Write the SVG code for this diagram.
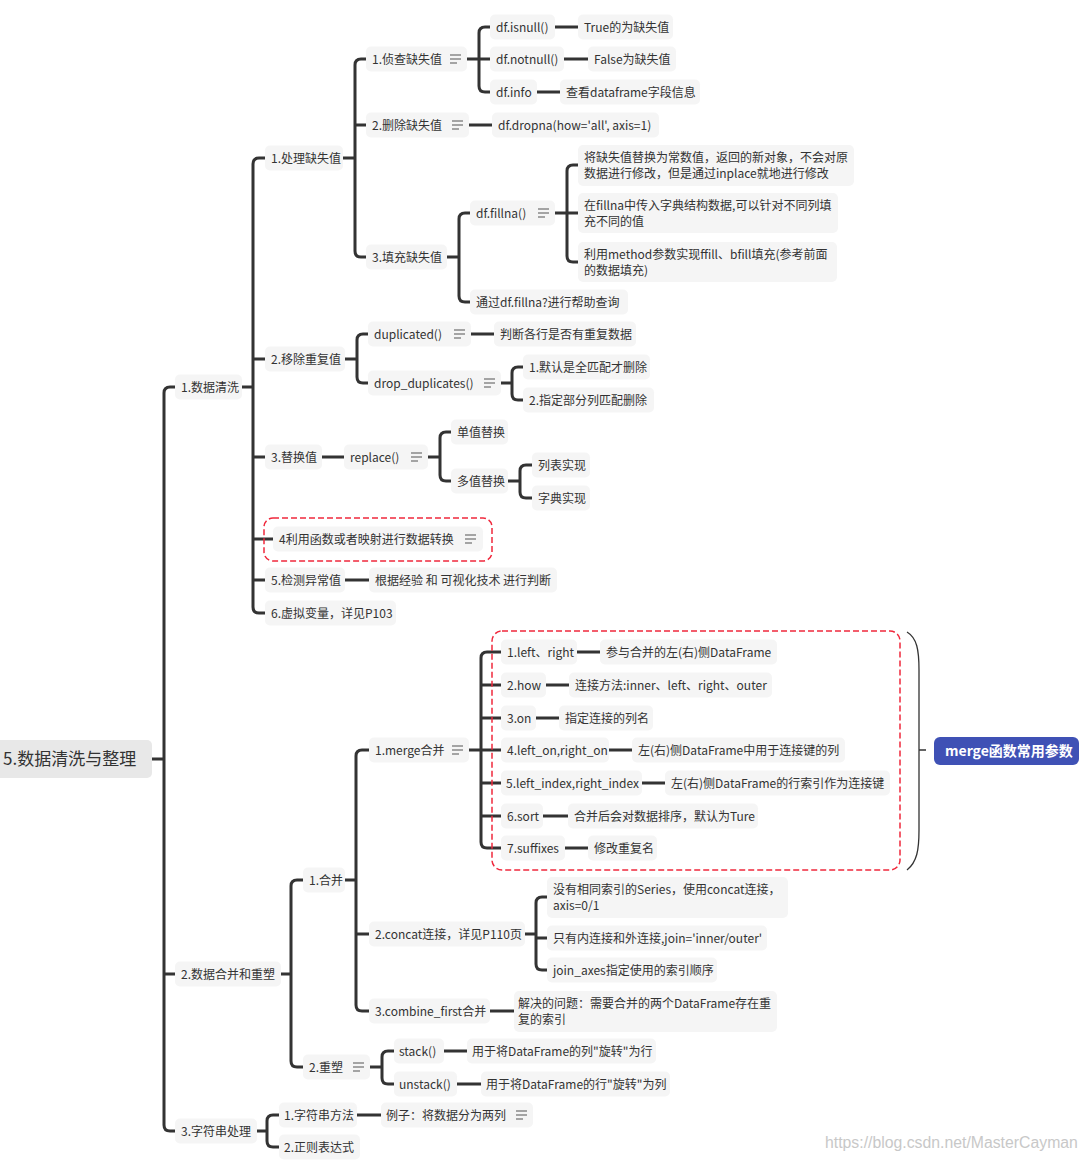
<svg xmlns="http://www.w3.org/2000/svg" width="1085" height="1161" viewBox="0 0 1085 1161">
<style>
text{font-family:"Noto Sans CJK SC","Noto Sans",sans-serif;font-size:12px;fill:#333}
.n rect{fill:#f5f5f5}
.c path{fill:none;stroke:#333;stroke-width:3}
.ic{fill:none;stroke:#555;stroke-width:1.2}
.dash{fill:none;stroke:#f0283c;stroke-width:1.5;stroke-dasharray:6 3}
.root rect{fill:#e8e8e8}
.root text{font-size:17px}
.lbl rect{fill:#3f51b5}
.lbl text{fill:#fff;font-weight:bold;font-size:14px}
.wm{fill:#c8c8c8;font-family:"Liberation Sans",sans-serif;font-size:15.8px}
</style>
<defs>
<path id="note" class="ic" d="M0,-4h11M0,0h11M0,4h7"/>
</defs>
<rect width="1085" height="1161" fill="#fff"/>
<g class="c" id="connectors">
<path d="M152,759H164M175,387H170Q164,387 164,393V1125Q164,1131 170,1131H175M164,974H175"/>
<path d="M242,387H253M265,158H259Q253,158 253,164V607Q253,613 259,613H265M253,359H265M253,457H265M253,539H273M253,580H265"/>
<path d="M343,158H355M366,59H361Q355,59 355,65V251Q355,257 361,257H366M355,125H366"/>
<path d="M467,59H479M490,27H485Q479,27 479,33V86Q479,92 485,92H490M479,59H490M555,27H578M564,59H588M537,92H560"/>
<path d="M469,125H492"/>
<path d="M447,257H459M470,213H465Q459,213 459,219V296Q459,302 465,302H470"/>
<path d="M555,213H567M578,165H573Q567,165 567,171V256Q567,262 573,262H578M567,213H578"/>
<path d="M345,359H357M368,334H363Q357,334 357,340V377Q357,383 363,383H368M471,334H494"/>
<path d="M501,383H512M523,367H518Q512,367 512,373V394Q512,400 518,400H523"/>
<path d="M322,457H344M428,457H440M451,432H446Q440,432 440,438V475Q440,481 446,481H451"/>
<path d="M508,481H520M532,465H526Q520,465 520,471V492Q520,498 526,498H532"/>
<path d="M345,580H369"/>
<path d="M281,974H291M303,880H297Q291,880 291,886V1061Q291,1067 297,1067H303"/>
<path d="M345,880H356M369,750H362Q356,750 356,756V1005Q356,1011 362,1011H369M356,934H369"/>
<path d="M469,750H481M501,652H487Q481,652 481,658V842Q481,848 487,848H501M481,685H501M481,718H501M481,750H501M481,783H501M481,816H501"/>
<path d="M577,652H600M546,685H569M536,718H559M609,750H632M642,783H665M543,816H568M565,848H588"/>
<path d="M525,934H536M547,897H542Q536,897 536,903V964Q536,970 542,970H547M536,938H547"/>
<path d="M490,1011H514"/>
<path d="M370,1067H382M394,1051H388Q382,1051 382,1057V1078Q382,1084 388,1084H394M444,1051H467M457,1084H481"/>
<path d="M257,1131H267M279,1115H273Q267,1115 267,1121V1141Q267,1147 273,1147H279M357,1115H381"/>
<path d="M907,632C917,638 919,650 919,670V830C919,850 917,862 907,870M919,750H926" style="stroke-width:1.3"/>
</g>
<rect class="dash" x="264" y="518" width="228" height="43" rx="9"/>
<rect class="dash" x="492" y="631" width="408" height="239" rx="10"/>
<g id="root" class="root"><rect x="-8" y="740" width="160" height="38" rx="5"/><text x="3" y="765">5.数据清洗与整理</text></g>
<g id="n_a" class="n"><rect x="175" y="374.5" width="67" height="25" rx="5"/><text x="181" y="392">1.数据清洗</text></g>
<g id="n_b" class="n"><rect x="175" y="961.5" width="106" height="25" rx="5"/><text x="181" y="979">2.数据合并和重塑</text></g>
<g id="n_c" class="n"><rect x="175" y="1118.5" width="82" height="25" rx="5"/><text x="181" y="1136">3.字符串处理</text></g>
<g id="n_a1" class="n"><rect x="265" y="145.5" width="78" height="25" rx="5"/><text x="271" y="163">1.处理缺失值</text></g>
<g id="n_a2" class="n"><rect x="265" y="346.5" width="80" height="25" rx="5"/><text x="271" y="364">2.移除重复值</text></g>
<g id="n_a3" class="n"><rect x="265" y="444.5" width="57" height="25" rx="5"/><text x="271" y="462">3.替换值</text></g>
<g id="n_a4" class="n"><rect x="273" y="526.5" width="210" height="25" rx="5"/><text x="279" y="544">4利用函数或者映射进行数据转换</text><use href="#note" x="465" y="539"/></g>
<g id="n_a5" class="n"><rect x="265" y="567.5" width="80" height="25" rx="5"/><text x="271" y="585">5.检测异常值</text></g>
<g id="n_a6" class="n"><rect x="265" y="600.5" width="131" height="25" rx="5"/><text x="271" y="618">6.虚拟变量，详见P103</text></g>
<g id="n_a11" class="n"><rect x="366" y="46.5" width="101" height="25" rx="5"/><text x="372" y="64">1.侦查缺失值</text><use href="#note" x="450" y="59"/></g>
<g id="n_a12" class="n"><rect x="366" y="112.5" width="103" height="25" rx="5"/><text x="372" y="130">2.删除缺失值</text><use href="#note" x="452" y="125"/></g>
<g id="n_a13" class="n"><rect x="366" y="244.5" width="81" height="25" rx="5"/><text x="372" y="262">3.填充缺失值</text></g>
<g id="n_isnull" class="n"><rect x="490" y="14.5" width="65" height="25" rx="5"/><text x="496" y="32">df.isnull()</text></g>
<g id="n_isnull_d" class="n"><rect x="578" y="14.5" width="95" height="25" rx="5"/><text x="584" y="32">True的为缺失值</text></g>
<g id="n_notnull" class="n"><rect x="490" y="46.5" width="74" height="25" rx="5"/><text x="496" y="64">df.notnull()</text></g>
<g id="n_notnull_d" class="n"><rect x="588" y="46.5" width="88" height="25" rx="5"/><text x="594" y="64">False为缺失值</text></g>
<g id="n_info" class="n"><rect x="490" y="79.5" width="47" height="25" rx="5"/><text x="496" y="97">df.info</text></g>
<g id="n_info_d" class="n"><rect x="560" y="79.5" width="140" height="25" rx="5"/><text x="566" y="97">查看dataframe字段信息</text></g>
<g id="n_dropna" class="n"><rect x="492" y="112.5" width="167" height="25" rx="5"/><text x="498" y="130">df.dropna(how='all', axis=1)</text></g>
<g id="n_fillna" class="n"><rect x="470" y="200.5" width="85" height="25" rx="5"/><text x="476" y="218">df.fillna()</text><use href="#note" x="538" y="213"/></g>
<g id="n_fillhelp" class="n"><rect x="470" y="289.5" width="158" height="25" rx="5"/><text x="476" y="307">通过df.fillna?进行帮助查询</text></g>
<g id="n_fill1" class="n"><rect x="578" y="145" width="276" height="41" rx="5"/><text x="584" y="162">将缺失值替换为常数值，返回的新对象，不会对原</text><text x="584" y="178">数据进行修改，但是通过inplace就地进行修改</text></g>
<g id="n_fill2" class="n"><rect x="578" y="193" width="260" height="40" rx="5"/><text x="584" y="210">在fillna中传入字典结构数据,可以针对不同列填</text><text x="584" y="226">充不同的值</text></g>
<g id="n_fill3" class="n"><rect x="578" y="242" width="259" height="40" rx="5"/><text x="584" y="259">利用method参数实现ffill、bfill填充(参考前面</text><text x="584" y="275">的数据填充)</text></g>
<g id="n_dup" class="n"><rect x="368" y="321.5" width="103" height="25" rx="5"/><text x="374" y="339">duplicated()</text><use href="#note" x="454" y="334"/></g>
<g id="n_dup_d" class="n"><rect x="494" y="321.5" width="142" height="25" rx="5"/><text x="500" y="339">判断各行是否有重复数据</text></g>
<g id="n_dropdup" class="n"><rect x="368" y="370.5" width="133" height="25" rx="5"/><text x="374" y="388">drop_duplicates()</text><use href="#note" x="484" y="383"/></g>
<g id="n_dd1" class="n"><rect x="523" y="354.5" width="127" height="25" rx="5"/><text x="529" y="372">1.默认是全匹配才删除</text></g>
<g id="n_dd2" class="n"><rect x="523" y="387.5" width="131" height="25" rx="5"/><text x="529" y="405">2.指定部分列匹配删除</text></g>
<g id="n_replace" class="n"><rect x="344" y="444.5" width="84" height="25" rx="5"/><text x="350" y="462">replace()</text><use href="#note" x="411" y="457"/></g>
<g id="n_single" class="n"><rect x="451" y="419.5" width="57" height="25" rx="5"/><text x="457" y="437">单值替换</text></g>
<g id="n_multi" class="n"><rect x="451" y="468.5" width="57" height="25" rx="5"/><text x="457" y="486">多值替换</text></g>
<g id="n_list" class="n"><rect x="532" y="452.5" width="58" height="25" rx="5"/><text x="538" y="470">列表实现</text></g>
<g id="n_dict" class="n"><rect x="532" y="485.5" width="58" height="25" rx="5"/><text x="538" y="503">字典实现</text></g>
<g id="n_a5d" class="n"><rect x="369" y="567.5" width="188" height="25" rx="5"/><text x="375" y="585">根据经验 和 可视化技术 进行判断</text></g>
<g id="n_b1" class="n"><rect x="303" y="867.5" width="42" height="25" rx="5"/><text x="309" y="885">1.合并</text></g>
<g id="n_b2" class="n"><rect x="303" y="1054.5" width="67" height="25" rx="5"/><text x="309" y="1072">2.重塑</text><use href="#note" x="353" y="1067"/></g>
<g id="n_merge" class="n"><rect x="369" y="737.5" width="100" height="25" rx="5"/><text x="375" y="755">1.merge合并</text><use href="#note" x="452" y="750"/></g>
<g id="n_m1" class="n"><rect x="501" y="639.5" width="76" height="25" rx="5"/><text x="507" y="657">1.left、right</text></g>
<g id="n_m1d" class="n"><rect x="600" y="639.5" width="177" height="25" rx="5"/><text x="606" y="657">参与合并的左(右)侧DataFrame</text></g>
<g id="n_m2" class="n"><rect x="501" y="672.5" width="45" height="25" rx="5"/><text x="507" y="690">2.how</text></g>
<g id="n_m2d" class="n"><rect x="569" y="672.5" width="203" height="25" rx="5"/><text x="575" y="690">连接方法:inner、left、right、outer</text></g>
<g id="n_m3" class="n"><rect x="501" y="705.5" width="35" height="25" rx="5"/><text x="507" y="723">3.on</text></g>
<g id="n_m3d" class="n"><rect x="559" y="705.5" width="94" height="25" rx="5"/><text x="565" y="723">指定连接的列名</text></g>
<g id="n_m4" class="n"><rect x="501" y="737.5" width="108" height="25" rx="5"/><text x="507" y="755">4.left_on,right_on</text></g>
<g id="n_m4d" class="n"><rect x="632" y="737.5" width="213" height="25" rx="5"/><text x="638" y="755">左(右)侧DataFrame中用于连接键的列</text></g>
<g id="n_m5" class="n"><rect x="501" y="770.5" width="141" height="25" rx="5"/><text x="506" y="788">5.left_index,right_index</text></g>
<g id="n_m5d" class="n"><rect x="665" y="770.5" width="225" height="25" rx="5"/><text x="671" y="788">左(右)侧DataFrame的行索引作为连接键</text></g>
<g id="n_m6" class="n"><rect x="501" y="803.5" width="42" height="25" rx="5"/><text x="507" y="821">6.sort</text></g>
<g id="n_m6d" class="n"><rect x="568" y="803.5" width="190" height="25" rx="5"/><text x="574" y="821">合并后会对数据排序，默认为Ture</text></g>
<g id="n_m7" class="n"><rect x="501" y="835.5" width="64" height="25" rx="5"/><text x="507" y="853">7.suffixes</text></g>
<g id="n_m7d" class="n"><rect x="588" y="835.5" width="69" height="25" rx="5"/><text x="594" y="853">修改重复名</text></g>
<g id="n_concat" class="n"><rect x="369" y="921.5" width="156" height="25" rx="5"/><text x="375" y="939">2.concat连接，详见P110页</text></g>
<g id="n_c1" class="n"><rect x="547" y="877" width="241" height="41" rx="5"/><text x="553" y="894">没有相同索引的Series，使用concat连接，</text><text x="553" y="910">axis=0/1</text></g>
<g id="n_c2" class="n"><rect x="547" y="925.5" width="220" height="25" rx="5"/><text x="553" y="943">只有内连接和外连接,join='inner/outer'</text></g>
<g id="n_c3" class="n"><rect x="547" y="957.5" width="170" height="25" rx="5"/><text x="553" y="975">join_axes指定使用的索引顺序</text></g>
<g id="n_combine" class="n"><rect x="369" y="998.5" width="121" height="25" rx="5"/><text x="375" y="1016">3.combine_first合并</text></g>
<g id="n_combine_d" class="n"><rect x="514" y="991" width="263" height="41" rx="5"/><text x="518" y="1008">解决的问题：需要合并的两个DataFrame存在重</text><text x="518" y="1024">复的索引</text></g>
<g id="n_stack" class="n"><rect x="394" y="1038.5" width="50" height="25" rx="5"/><text x="399" y="1056">stack()</text></g>
<g id="n_stack_d" class="n"><rect x="467" y="1038.5" width="189" height="25" rx="5"/><text x="472" y="1056">用于将DataFrame的列"旋转"为行</text></g>
<g id="n_unstack" class="n"><rect x="394" y="1071.5" width="63" height="25" rx="5"/><text x="399" y="1089">unstack()</text></g>
<g id="n_unstack_d" class="n"><rect x="481" y="1071.5" width="189" height="25" rx="5"/><text x="486" y="1089">用于将DataFrame的行"旋转"为列</text></g>
<g id="n_c1s" class="n"><rect x="279" y="1102.5" width="78" height="25" rx="5"/><text x="284" y="1120">1.字符串方法</text></g>
<g id="n_c1sd" class="n"><rect x="381" y="1102.5" width="152" height="25" rx="5"/><text x="386" y="1120">例子：将数据分为两列</text><use href="#note" x="516" y="1115"/></g>
<g id="n_c2s" class="n"><rect x="279" y="1134.5" width="81" height="25" rx="5"/><text x="284" y="1152">2.正则表达式</text></g>
<g id="n_label" class="lbl"><rect x="934" y="737" width="145" height="28" rx="6"/><text x="945" y="756">merge函数常用参数</text></g>
<text class="wm" x="825" y="1148">https://blog.csdn.net/MasterCayman</text>
</svg>
